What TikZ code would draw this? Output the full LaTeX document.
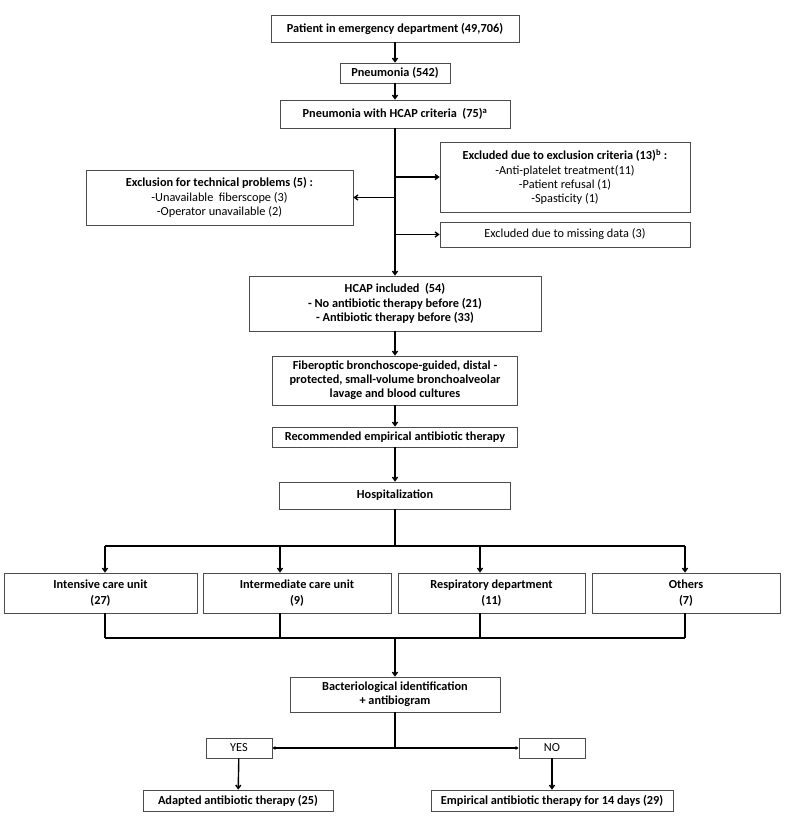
\documentclass[tikz,border=0pt]{standalone}
\usepackage{fontspec}
\setmainfont{Carlito}
\usetikzlibrary{arrows.meta}

\begin{document}
\begin{tikzpicture}[x=1pt,y=-1pt,
  box/.style={draw=black!70,line width=0.6pt,fill=white,align=center,inner sep=1pt,
    font=\fontsize{12.3}{14.2}\selectfont},
  bbox/.style={box,font=\fontsize{12.3}{14.2}\selectfont\bfseries},
  ward/.style={bbox,minimum height=40pt,font=\fontsize{12.3}{16.5}\selectfont\bfseries},
  flow/.style={line width=1.4pt},
  arr/.style={flow,-{Straight Barb[length=3.5pt,width=5pt]}},
  tip/.style={flow,-{Latex[length=3pt,width=4pt]}}]
  \useasboundingbox (0,0) rectangle (785,827);
  % main column
  \node[bbox,minimum width=248pt,minimum height=27pt] (pat) at (395,28.5) {Patient in emergency department (49,706)};
  \node[bbox,minimum width=110pt,minimum height=20pt] (pneu) at (395,73) {Pneumonia (542)};
  \node[bbox,minimum width=230pt,minimum height=28pt] (hcap) at (395,114) {Pneumonia with HCAP criteria\ \ (75)\textsuperscript{a}};
  \node[box,minimum width=250pt,minimum height=70pt] (crit) at (565,177) {\textbf{Excluded due to exclusion criteria (13)\textsuperscript{b} :}\\-Anti-platelet treatment(11)\\-Patient refusal (1)\\-Spasticity (1)};
  \node[box,minimum width=267pt,minimum height=55pt] (tech) at (219.5,197.5) {\textbf{Exclusion for technical problems (5) :}\\-Unavailable\ \ fiberscope (3)\\-Operator unavailable (2)};
  \node[box,minimum width=250pt,minimum height=25pt] (miss) at (565,234.5) {Excluded due to missing data (3)};
  \node[bbox,minimum width=292pt,minimum height=55pt] (incl) at (395,303.5) {HCAP included\ \ (54)\\- No antibiotic therapy before (21)\\- Antibiotic therapy before (33)};
  \node[bbox,minimum width=245pt,minimum height=49pt] (fibre) at (395,380.5) {Fiberoptic bronchoscope-guided, distal -\\protected, small-volume bronchoalveolar\\lavage and blood cultures};
  \node[bbox,minimum width=245pt,minimum height=20pt] (recom) at (395,437) {Recommended empirical antibiotic therapy};
  \node[bbox,minimum width=231pt,minimum height=27pt] (hosp) at (395,495.5) {Hospitalization};
  % wards
  \node[ward,minimum width=193pt] (icu) at (100.5,593) {Intensive care unit\\(27)};
  \node[ward,minimum width=188pt] (inter) at (297,593) {Intermediate care unit\\(9)};
  \node[ward,minimum width=187pt] (resp) at (491.5,593) {Respiratory department\\(11)};
  \node[ward,minimum width=188pt] (oth) at (686,593) {Others\\(7)};
  % outcome
  \node[bbox,minimum width=210pt,minimum height=35pt] (bact) at (395,694.5) {Bacteriological identification\\+ antibiogram};
  \node[box,minimum width=66pt,minimum height=20pt] (yes) at (239,748) {YES};
  \node[box,minimum width=66pt,minimum height=20pt] (no) at (552,748) {NO};
  \node[bbox,minimum width=190pt,minimum height=21pt] (adap) at (238,800.5) {Adapted antibiotic therapy (25)};
  \node[bbox,minimum width=242pt,minimum height=21pt] (emp) at (552,800.5) {Empirical antibiotic therapy for 14 days (29)};

  \draw[arr] (pat) -- (pneu);
  \draw[arr] (pneu) -- (hcap);
  \draw[arr] (hcap) -- (incl);
  \draw[arr] (crit.west -| hcap.south) -- (crit.west);
  \draw[arr] (tech.east -| hcap.south) -- (tech.east);
  \draw[arr] (miss.west -| hcap.south) -- (miss.west);
  \draw[arr] (incl) -- (fibre);
  \draw[arr] (fibre) -- (recom);
  \draw[arr] (recom) -- (hosp);
  \foreach \u/\x [count=\i] in {icu/105,inter/280,resp/480,oth/685}{
    \coordinate (in\i) at (\x,546);
    \coordinate (out\i) at (\x,638);
    \draw[arr] (in\i) -- (in\i |- \u.north);
    \draw[flow] (out\i |- \u.south) -- (out\i);
  }
  \draw[flow] (in1) -- (in4);
  \draw[flow] (out1) -- (out4);
  \draw[flow] (hosp) -- (hosp |- in1);
  \draw[arr] (hosp |- out1) -- (bact);
  \coordinate (fork) at (bact.south |- yes.east);
  \draw[flow] (bact) -- (fork);
  \draw[tip] (fork) -- (yes);
  \draw[tip] (fork) -- (no);
  \draw[arr] (yes) -- (adap);
  \draw[arr] (no) -- (emp);
\end{tikzpicture}
\end{document}
